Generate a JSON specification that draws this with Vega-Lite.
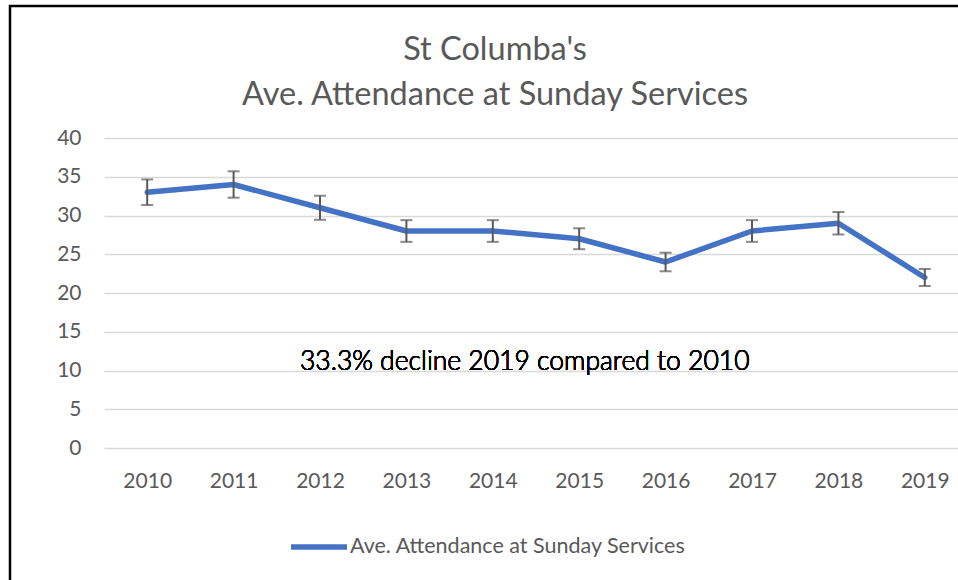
{
  "$schema": "https://vega.github.io/schema/vega-lite/v6.json",
  "autosize": {"type": "none"},
  "padding": {"left": 10, "top": 6, "right": -4, "bottom": -4},
  "width": 952,
  "height": 578,
  "background": "white",
  "config": {
    "view": {"stroke": "#000000", "strokeWidth": 2.5},
    "font": "Lato"
  },
  "title": {
    "text": ["St Columba's", "Ave. Attendance at Sunday Services"],
    "frame": "group",
    "anchor": "middle",
    "baseline": "alphabetic",
    "offset": -132,
    "dx": 9,
    "lineHeight": 45.6,
    "fontSize": 32.5,
    "font": "Lato",
    "fontWeight": "normal",
    "color": "#595959"
  },
  "data": {
    "values": [
      {"year": 2010, "attendance": 33, "low": 31.35, "high": 34.65},
      {"year": 2011, "attendance": 34, "low": 32.3, "high": 35.7},
      {"year": 2012, "attendance": 31, "low": 29.45, "high": 32.55},
      {"year": 2013, "attendance": 28, "low": 26.6, "high": 29.4},
      {"year": 2014, "attendance": 28, "low": 26.6, "high": 29.4},
      {"year": 2015, "attendance": 27, "low": 25.65, "high": 28.35},
      {"year": 2016, "attendance": 24, "low": 22.8, "high": 25.2},
      {"year": 2017, "attendance": 28, "low": 26.6, "high": 29.4},
      {"year": 2018, "attendance": 29, "low": 27.55, "high": 30.45},
      {"year": 2019, "attendance": 22, "low": 20.9, "high": 23.1}
    ]
  },
  "layer": [
    {
      "mark": {"type": "line", "strokeWidth": 5.5, "strokeCap": "round", "strokeJoin": "round"},
      "encoding": {
        "x": {
          "field": "year", "type": "quantitative",
          "scale": {"domain": [2009.5, 2019.5], "range": [94, 958], "nice": false, "zero": false},
          "axis": {
            "orient": "bottom", "offset": -114, "values": [2010, 2011, 2012, 2013, 2014, 2015, 2016, 2017, 2018, 2019],
            "format": "d", "domain": false, "ticks": false, "tickSize": 0, "labelPadding": 0, "grid": false,
            "title": null, "labelFontSize": 21, "labelColor": "#595959", "labelFont": "Lato",
            "labelFlush": false, "labelOverlap": false
          }
        },
        "y": {
          "field": "attendance", "type": "quantitative",
          "scale": {"domain": [0, 40], "range": [442, 132], "nice": false},
          "axis": {
            "orient": "left", "offset": -71, "values": [0, 5, 10, 15, 20, 25, 30, 35, 40],
            "domain": false, "ticks": false, "tickSize": 0, "labelPadding": 0, "grid": true,
            "gridColor": "#d9d9d9", "gridWidth": 1.5, "title": null, "labelFontSize": 21,
            "labelColor": "#595959", "labelFont": "Lato", "labelAlign": "right", "labelBaseline": "middle"
          }
        },
        "color": {
          "datum": "Ave. Attendance at Sunday Services",
          "scale": {"range": ["#4472C4"]},
          "legend": {
            "orient": "none", "legendX": 278, "legendY": 510, "direction": "horizontal", "title": null,
            "symbolType": "stroke", "symbolSize": 3136, "symbolStrokeWidth": 5.5, "labelFontSize": 21.5,
            "labelColor": "#595959", "labelFont": "Lato", "labelOffset": 0, "padding": 0, "labelLimit": 0
          }
        }
      }
    },
    {
      "mark": {"type": "rule", "color": "#595959", "strokeWidth": 2},
      "encoding": {
        "x": {"field": "year", "type": "quantitative"},
        "y": {"field": "low", "type": "quantitative"},
        "y2": {"field": "high"}
      }
    },
    {
      "mark": {"type": "tick", "color": "#595959", "orient": "horizontal", "size": 12, "thickness": 2},
      "encoding": {
        "x": {"field": "year", "type": "quantitative"},
        "y": {"field": "low", "type": "quantitative"}
      }
    },
    {
      "mark": {"type": "tick", "color": "#595959", "orient": "horizontal", "size": 12, "thickness": 2},
      "encoding": {
        "x": {"field": "year", "type": "quantitative"},
        "y": {"field": "high", "type": "quantitative"}
      }
    },
    {
      "mark": {"type": "text", "fontSize": 26.5, "fontWeight": 300, "color": "#000000", "font": "Lato", "align": "center", "baseline": "alphabetic"},
      "encoding": {
        "x": {"datum": 2014.37},
        "y": {"datum": 10.1},
        "text": {"value": "33.3% decline 2019 compared to 2010"}
      }
    }
  ]
}
